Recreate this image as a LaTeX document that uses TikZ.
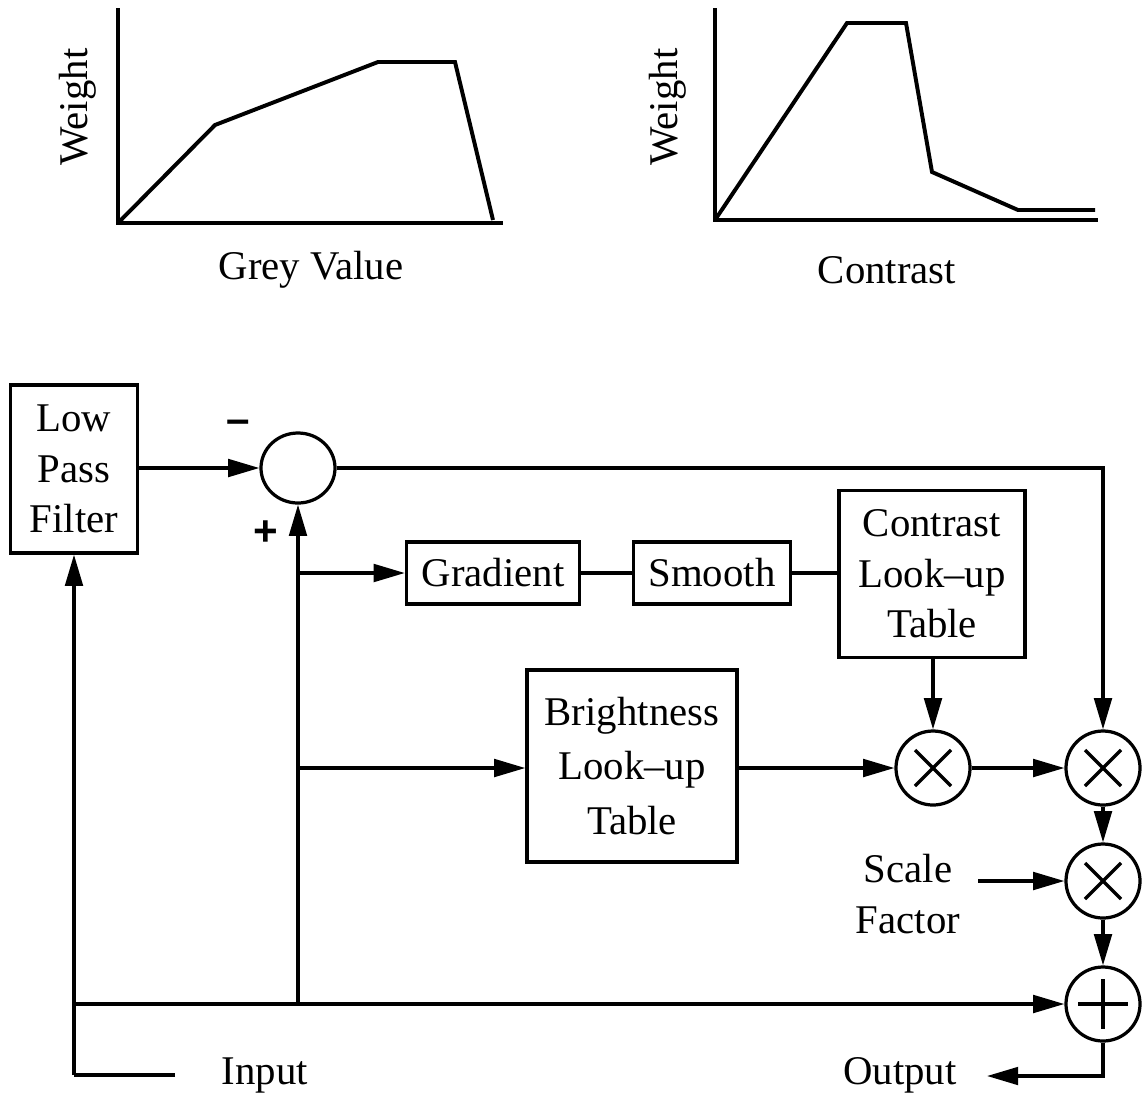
\documentclass[tikz,border=0pt]{standalone}
\usepackage{fontspec}
\setmainfont{Liberation Serif}
\setsansfont{Liberation Sans}
\usetikzlibrary{arrows.meta,positioning,calc,shapes.geometric}

\tikzset{
  sig/.style={line width=2.3pt, -{Triangle[length=0.78cm,width=0.44cm]}},
  wire/.style={line width=2.3pt},
  block/.style={draw, line width=2.3pt, rectangle, align=center, inner sep=0pt},
  junc/.style={draw, line width=2.3pt, circle, minimum size=1.85cm, inner sep=0pt},
  mulnode/.style={junc, path picture={
      \draw[line width=2.3pt] ([shift={(-0.45cm,-0.45cm)}]path picture bounding box.center) -- ([shift={(0.45cm,0.45cm)}]path picture bounding box.center);
      \draw[line width=2.3pt] ([shift={(-0.45cm,0.45cm)}]path picture bounding box.center) -- ([shift={(0.45cm,-0.45cm)}]path picture bounding box.center);}},
  addnode/.style={junc, path picture={
      \draw[line width=2.3pt] ([shift={(-0.62cm,0)}]path picture bounding box.center) -- ([shift={(0.62cm,0)}]path picture bounding box.center);
      \draw[line width=2.3pt] ([shift={(0,-0.62cm)}]path picture bounding box.center) -- ([shift={(0,0.62cm)}]path picture bounding box.center);}},
  sign/.style={font=\fontsize{30}{32}\selectfont\sffamily\bfseries},
  curve/.style={line width=2.8pt, line join=miter}
}

\begin{document}
\begin{tikzpicture}[x=0.025cm, y=-0.025cm, font=\fontsize{29}{36}\selectfont]
  \useasboundingbox (0,0) rectangle (1144,1094);

  % Weight curves
  \draw[curve] (118,8) -- (118,223) -- (503,223);
  \draw[curve] (118,223) -- (215,125) -- (378,62) -- (455,62) -- (493,220);
  \node[rotate=90] (wgtA) at (78,107) {Weight};
  \node (grey) at (311,270) {Grey Value};

  \draw[curve] (715,8) -- (715,220) -- (1098,220);
  \draw[curve] (715,220) -- (847,23) -- (906,23) -- (932,172) -- (1018,210) -- (1095,210);
  \node[rotate=90] (wgtB) at (668,107) {Weight};
  \node (contr) at (887,270) {Contrast};

  % Blocks
  \node[draw, line width=2.3pt, ellipse, inner sep=0pt, minimum width=1.85cm, minimum height=1.75cm] (sub) at (298,468) {};
  \node[block, minimum width=3.175cm, minimum height=4.2cm] (lpf) at (74,469) {Low\\Pass\\Filter};
  \node[sign] (minus) at (238,427) {--};
  \node[sign] (plus) at (266,533) {+};

  \node[block, minimum width=4.325cm, minimum height=1.55cm] (grad) at (493,573) {Gradient};
  \node[block, minimum width=3.925cm, minimum height=1.55cm] (smooth) at (712,573) {Smooth};
  \node[block, minimum width=4.65cm, minimum height=4.175cm] (clut) at (932,574) {Contrast\\Look--up\\Table};
  \node[block, minimum width=5.25cm, minimum height=4.8cm] (blut) at (632,766) {Brightness\\[3pt]Look--up\\[3pt]Table};

  \node[mulnode] (mulA) at (933,768) {};
  \node[mulnode] (mulB) at (1103,768) {};
  \node[mulnode] (mulC) at (1103,881) {};
  \node[addnode] (add) at (1103,1004) {};

  \node[align=center] (scale) at (908,894) {Scale\\Factor};
  \node (inlab) at (265,1075) {Input};
  \node (outlab) at (900,1075) {Output};

  \coordinate (inA) at (175,1075);
  \coordinate (scA) at (978,881);
  \coordinate (outA) at (987,1076);

  % Signal paths
  \draw[wire] (inA) -- (lpf.south |- inA);
  \draw[sig] (lpf.south |- inA) -- (lpf.south);
  \draw[sig] (lpf.south |- add) -- (add.west);
  \draw[sig] (sub.south |- add) -- (sub.south);
  \draw[sig] (lpf.east |- sub) -- (sub.west);
  \draw[sig] (sub.south |- grad) -- (grad.west);
  \draw[sig] (sub.south |- mulA) -- (blut.west |- mulA);
  \draw[wire] (grad) -- (smooth);
  \draw[wire] (smooth) -- (smooth -| clut.west);
  \draw[sig] (sub.east) -| (mulB.north);
  \draw[sig] (clut.south -| mulA) -- (mulA.north);
  \draw[sig] (blut.east |- mulA) -- (mulA.west);
  \draw[sig] (mulA) -- (mulB);
  \draw[sig] (mulB) -- (mulC);
  \draw[sig] (scA) -- (mulC.west);
  \draw[sig] (mulC) -- (add);
  \draw[sig] (add.south) |- (outA);
\end{tikzpicture}
\end{document}
